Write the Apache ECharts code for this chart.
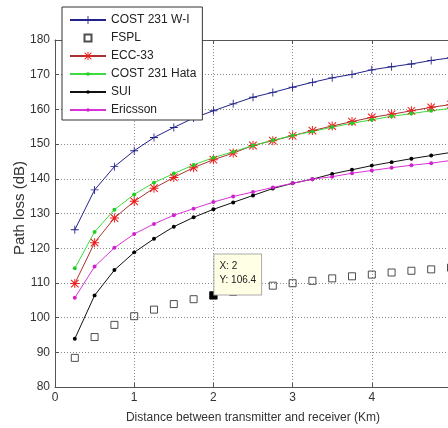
<!DOCTYPE html>
<html>
<head>
<meta charset="utf-8">
<script src="https://cdn.jsdelivr.net/npm/echarts@6/dist/echarts.min.js"></script>
<style>
  html, body { margin: 0; padding: 0; background: #fff; }
  #chart { width: 448px; height: 428px; }
</style>
</head>
<body>
<div id="chart"></div>
<script>
// Distance between transmitter and receiver (km)
const distanceKm = [0.25, 0.5, 0.75, 1, 1.25, 1.5, 1.75, 2, 2.25, 2.5,
                    2.75, 3, 3.25, 3.5, 3.75, 4, 4.25, 4.5, 4.75, 5];

// Path loss per propagation model (dB)
const cost231WI = [125.3, 136.8, 143.5, 148.1, 151.9, 154.8, 157.5, 159.6, 161.6, 163.5,
                   164.9, 166.4, 167.8, 169.1, 170.1, 171.4, 172.3, 173.1, 174.1, 174.9];
const fspl      = [88.4, 94.4, 97.9, 100.4, 102.3, 103.9, 105.3, 106.4, 107.4, 108.4,
                   109.2, 109.9, 110.6, 111.3, 111.9, 112.4, 113.0, 113.5, 113.9, 114.4];
const ecc33     = [109.8, 121.6, 128.7, 133.5, 137.3, 140.4, 143.2, 145.5, 147.4, 149.6,
                   151.0, 152.4, 153.9, 155.2, 156.5, 157.7, 158.6, 159.6, 160.6, 161.4];
const cost231Hata = [114.2, 124.7, 131.1, 135.5, 138.9, 141.5, 144.0, 146.1, 147.8, 149.6,
                   151.1, 152.5, 153.6, 154.9, 156.0, 157.0, 158.0, 158.8, 159.6, 160.3];
const sui       = [93.9, 106.4, 113.7, 118.8, 122.7, 126.2, 128.9, 131.2, 133.2, 135.2,
                   137.2, 138.7, 139.9, 141.4, 142.6, 143.8, 144.8, 145.8, 146.7, 147.6];
const ericsson  = [105.7, 114.7, 120.1, 124.1, 127.0, 129.5, 131.4, 133.3, 134.9, 136.2,
                   137.5, 138.7, 139.9, 140.6, 141.6, 142.4, 143.2, 143.9, 144.5, 145.3];

const seriesNames = ['COST 231 W-I', 'FSPL', 'ECC-33', 'COST 231 Hata', 'SUI', 'Ericsson'];

// Data tip shown on the FSPL curve
const tipIndex = 7;

const FONT = 'Liberation Sans, Arial, sans-serif';
// Marker shapes in a 10x10 box; the two empty corner points keep small
// markers at the same scale as the box when drawn in the legend.
const PLUS = 'path://M4.45,0H5.55V10H4.45Z M0,4.45H10V5.55H0Z';
const STAR = 'path://M4.45,0H5.55V10H4.45Z M0,4.45H10V5.55H0Z M1.2,0.4L9.6,8.8L8.8,9.6L0.4,1.2Z M8.8,0.4L9.6,1.2L1.2,9.6L0.4,8.8Z';
const DOT = 'path://M0,0L0,0M10,10L10,10M7.2,5A2.2,2.2,0,1,1,2.8,5A2.2,2.2,0,1,1,7.2,5Z';
const SQUARE = 'path://M0,0L0,0M10,10L10,10M1.5,1.5H8.5V8.5H1.5Z';

const pairs = vals => distanceKm.map((d, i) => [d, vals[i]]);

function lineSeries(name, vals, lineColor, markColor, symbol, size) {
  return {
    name, type: 'line', data: pairs(vals),
    symbol, symbolSize: size, showAllSymbol: true,
    lineStyle: { color: lineColor, width: 1 },
    itemStyle: { color: markColor, borderWidth: 0 },
    emphasis: { disabled: true },
    animation: false, z: 3
  };
}

const chart = echarts.init(document.getElementById('chart'), null, { renderer: 'canvas' });

const axisLabelStyle = { color: '#333', fontSize: 12, fontFamily: FONT };
const gridLine = { show: true, lineStyle: { color: '#8a8a8a', type: [1, 2], width: 1 } };

chart.setOption({
  animation: false,
  backgroundColor: '#fff',
  grid: { left: 55, top: 40, right: -3, bottom: 41, containLabel: false, outerBoundsMode: 'none' },
  legend: {
    orient: 'vertical', left: 62, top: 7,
    padding: [6, 6, 3, 7], itemGap: 4, itemWidth: 36, itemHeight: 10,
    backgroundColor: '#fff', borderColor: '#333', borderWidth: 1, borderRadius: 0,
    textStyle: { fontSize: 12, color: '#222', fontFamily: FONT, lineHeight: 14 },
    data: seriesNames.map(n => n === 'FSPL' ? { name: n, icon: SQUARE } : n),
    z: 10
  },
  xAxis: [
    {
      type: 'value', min: 0, max: 5, interval: 1, position: 'bottom',
      name: 'Distance between transmitter and receiver (Km)',
      nameLocation: 'middle', nameGap: 25, nameMoveOverlap: false,
      nameTextStyle: { color: '#333', fontSize: 12, fontFamily: FONT },
      axisLine: { show: true, onZero: false, lineStyle: { color: '#555', width: 1 } },
      axisTick: { show: true, inside: true, length: 4, lineStyle: { color: '#555' } },
      axisLabel: Object.assign({ margin: 5 }, axisLabelStyle),
      splitLine: gridLine
    },
    {
      type: 'value', min: 0, max: 5, interval: 1, position: 'top',
      axisLine: { show: true, onZero: false, lineStyle: { color: '#555', width: 1 } },
      axisTick: { show: true, inside: true, length: 4, lineStyle: { color: '#555' } },
      axisLabel: { show: false },
      splitLine: { show: false }
    }
  ],
  yAxis: {
    type: 'value', min: 80, max: 180, interval: 10,
    name: 'Path loss (dB)', nameLocation: 'middle', nameGap: 28, nameMoveOverlap: false,
    nameTextStyle: { color: '#333', fontSize: 15, fontFamily: FONT, padding: [0, 0, 0, 11] },
    axisLine: { show: true, onZero: false, lineStyle: { color: '#555', width: 1 } },
    axisTick: { show: true, inside: true, length: 4, lineStyle: { color: '#555' } },
    axisLabel: Object.assign({ margin: 5 }, axisLabelStyle),
    splitLine: gridLine
  },
  series: [
    lineSeries('COST 231 W-I', cost231WI, '#23238a', '#23238a', PLUS, 8),
    {
      name: 'FSPL', type: 'scatter', data: pairs(fspl),
      symbol: 'rect', symbolSize: 7,
      itemStyle: { color: 'rgba(255,255,255,0)', borderColor: '#222', borderWidth: 1 },
      emphasis: { disabled: true }, z: 3,
      markPoint: {
        symbol: 'rect', symbolSize: 8,
        itemStyle: { color: '#000', borderWidth: 0 },
        data: [{ coord: [distanceKm[tipIndex], fspl[tipIndex]] }],
        label: {
          show: true, position: [5, -37],
          formatter: 'X: ' + distanceKm[tipIndex] + '\nY: ' + fspl[tipIndex],
          color: '#222', fontSize: 10, fontFamily: FONT, lineHeight: 14,
          backgroundColor: '#ffffe6', borderColor: '#aaa', borderWidth: 1,
          padding: [5, 5, 7, 5]
        }
      }
    },
    lineSeries('ECC-33', ecc33, '#a83232', '#f01c1c', STAR, 9),
    lineSeries('COST 231 Hata', cost231Hata, '#3cdc3c', '#22cc22', DOT, 9),
    lineSeries('SUI', sui, '#111', '#000', DOT, 9),
    lineSeries('Ericsson', ericsson, '#d833d8', '#d020d0', DOT, 9)
  ]
});
</script>
</body>
</html>
